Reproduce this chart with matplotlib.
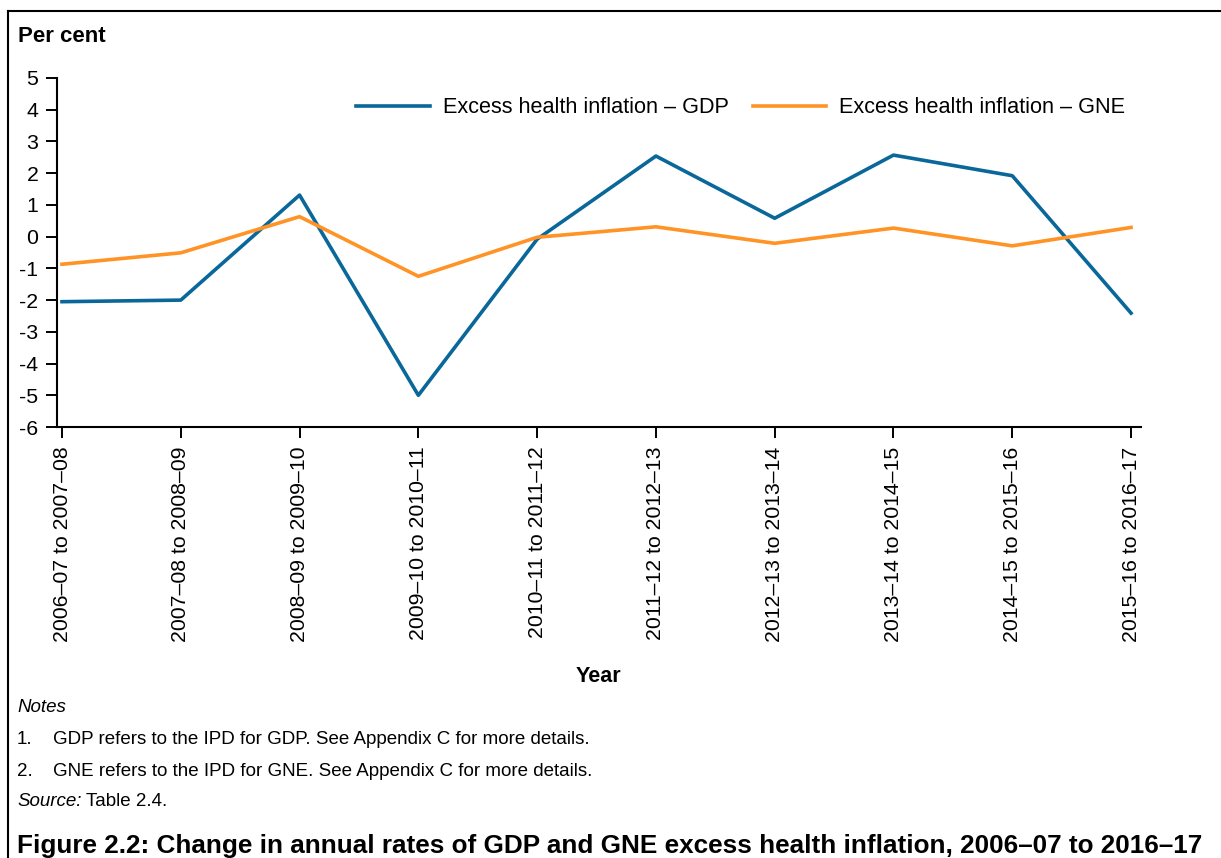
import matplotlib
matplotlib.use("Agg")
import matplotlib.pyplot as plt
from matplotlib.lines import Line2D

plt.rcParams['font.family'] = ['Liberation Sans', 'DejaVu Sans']

periods = ["2006\u201307 to 2007\u201308", "2007\u201308 to 2008\u201309", "2008\u201309 to 2009\u201310",
           "2009\u201310 to 2010\u201311", "2010\u201311 to 2011\u201312", "2011\u201312 to 2012\u201313",
           "2012\u201313 to 2013\u201314", "2013\u201314 to 2014\u201315", "2014\u201315 to 2015\u201316",
           "2015\u201316 to 2016\u201317"]
gdp = [-2.05, -2.0, 1.31, -5.0, -0.08, 2.54, 0.58, 2.57, 1.92, -2.41]
gne = [-0.87, -0.51, 0.63, -1.25, -0.02, 0.31, -0.21, 0.27, -0.29, 0.29]
yticks = list(range(-6, 6))

blue = "#0a6799"
orange = "#ff9326"

fig = plt.figure(figsize=(12.21, 8.58), dpi=100)
ax = fig.add_axes([0.0467, 0.5023, 0.8878, 0.4068])

x = range(len(periods))
ax.plot(x, gdp, color=blue, lw=2.6, label="Excess health inflation \u2013 GDP")
ax.plot(x, gne, color=orange, lw=2.6, label="Excess health inflation \u2013 GNE")

ax.set_xlim(-0.042, 9.084)
ax.set_ylim(-6, 5)
ax.set_yticks(yticks)
ax.set_yticklabels([str(v) for v in yticks], fontsize=15.3)
ax.set_xticks(list(x))
ax.set_xticklabels(periods, rotation=90, fontsize=15.3)
ax.tick_params(axis='both', length=8, width=1.4, color='black')
ax.tick_params(axis='x', pad=6)
ax.tick_params(axis='y', pad=5.5)
for s in ['top', 'right']:
    ax.spines[s].set_visible(False)
for s in ['left', 'bottom']:
    ax.spines[s].set_linewidth(1.5)

ax.legend(loc='upper left', bbox_to_anchor=(0.258, 1.0), ncol=2, frameon=False,
          fontsize=15.6, handlelength=3.4, handletextpad=0.6, columnspacing=1.1)

fig.text(18/1221, 1-36/858, "Per cent", fontsize=16, fontweight='bold', va='center')
fig.text(598/1221, 1-677/858, "Year", fontsize=15.5, fontweight='bold', va='center', ha='center')
fig.text(17/1221, 1-707/858, "Notes", fontsize=13.5, style='italic', va='center')
fig.text(17/1221, 1-740/858, "1.", fontsize=13.5, va='center')
fig.text(53/1221, 1-740/858, "GDP refers to the IPD for GDP. See Appendix C for more details.", fontsize=13.5, va='center')
fig.text(17/1221, 1-772/858, "2.", fontsize=13.5, va='center')
fig.text(53/1221, 1-772/858, "GNE refers to the IPD for GNE. See Appendix C for more details.", fontsize=13.5, va='center')
src = fig.text(17/1221, 1-802/858, "Source:", fontsize=13.5, style='italic', va='center')
fig.add_artist(matplotlib.text.Annotation("Table 2.4.", xy=(1, 0.5), xycoords=src,
                                          xytext=(3, 0), textcoords='offset points',
                                          fontsize=13.5, va='center'))
fig.text(17/1221, 1-853/858,
         "Figure 2.2: Change in annual rates of GDP and GNE excess health inflation, 2006\u201307 to 2016\u201317",
         fontsize=18.8, fontweight='bold', va='baseline')

# outer frame
fig.add_artist(Line2D([8/1221, 1.0], [1-11/858, 1-11/858], color='black', lw=1.5, transform=fig.transFigure))
fig.add_artist(Line2D([8/1221, 8/1221], [0.0, 1-11/858], color='black', lw=1.5, transform=fig.transFigure))

fig.savefig("out.png", dpi=100)
